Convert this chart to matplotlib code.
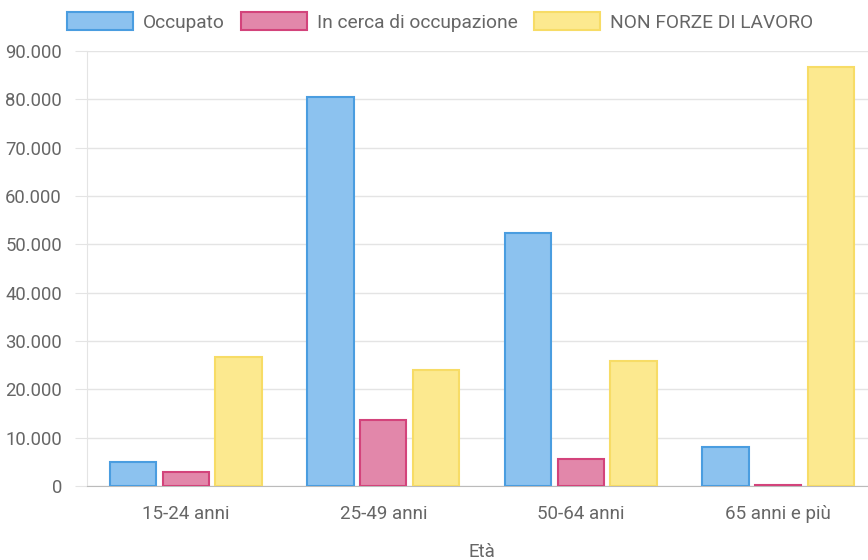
import matplotlib.pyplot as plt
from matplotlib.patches import Patch
from matplotlib.ticker import FuncFormatter, MultipleLocator
import numpy as np

plt.rcParams['font.family'] = ['Roboto', 'DejaVu Sans']

categories = ['15-24 anni', '25-49 anni', '50-64 anni', '65 anni e più']
series_names = ['Occupato', 'In cerca di occupazione', 'NON FORZE DI LAVORO']
occupato = [5000, 80500, 52300, 8000]
in_cerca = [2800, 13600, 5600, 300]
non_forze = [26600, 23900, 25800, 86600]

fills = ['#8cc2ef', '#e287aa', '#fce98f']
edges = ['#4a9de0', '#d3437b', '#f7dc66']
text_col = '#666666'

fig = plt.figure(figsize=(8.68, 5.6), dpi=100)
ax = fig.add_axes([87 / 868, 1 - 486 / 560, 790 / 868, 435 / 560])

x = np.arange(len(categories))
slot = 0.8 / 3
for i, vals in enumerate([occupato, in_cerca, non_forze]):
    ax.bar(x + (i - 1) * slot, vals, width=slot * 0.88, color=fills[i],
           edgecolor=edges[i], linewidth=1.5, zorder=3)

ax.set_xlim(-0.5, 3.5)
ax.set_ylim(0, 90000)
ax.yaxis.set_major_locator(MultipleLocator(10000))
ax.yaxis.set_major_formatter(FuncFormatter(lambda v, p: f'{int(v):,}'.replace(',', '.')))
ax.grid(axis='y', color='#e4e4e4', linewidth=1, zorder=0)
ax.set_xticks(x)
ax.set_xticklabels(categories)
ax.tick_params(axis='y', length=9, color='#e4e4e4', labelsize=13.3, labelcolor=text_col, pad=9)
ax.tick_params(axis='x', length=0, labelsize=13.5, labelcolor=text_col, pad=14)
ax.set_xlabel('Età', fontsize=13.5, color=text_col, labelpad=14)

for s in ['top', 'right']:
    ax.spines[s].set_visible(False)
ax.spines['left'].set_color('#e4e4e4')
ax.spines['bottom'].set_color('#bbbbbb')

handles = [Patch(facecolor=fills[i], edgecolor=edges[i], linewidth=1.5) for i in range(3)]
fig.legend(handles, series_names, loc='center', bbox_to_anchor=(440 / 868, 1 - 22 / 560),
           ncol=3, frameon=False, fontsize=13.8, labelcolor=text_col,
           handlelength=3.45, handleheight=1.0, handletextpad=0.5, columnspacing=0.85)

fig.savefig('out.png', dpi=100)
